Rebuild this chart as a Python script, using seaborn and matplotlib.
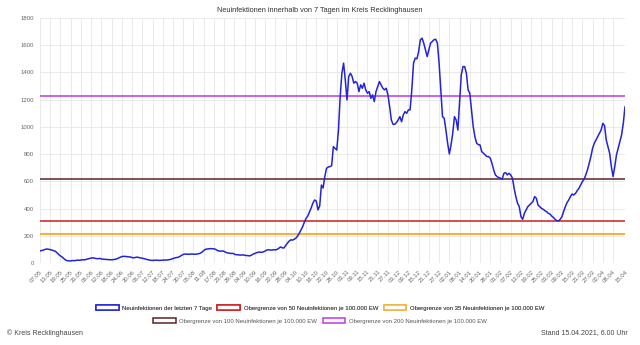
import matplotlib
matplotlib.use("Agg")
import matplotlib.pyplot as plt
import seaborn as sns
import pandas as pd
from matplotlib.patches import Patch

# ---------------- data ----------------
start_date = "2020-05-07"

# 7-day new infections, daily values (07.05.2020 - 15.04.2021)
cases_spring_summer = [
    88, 92, 95, 100, 103, 101, 98, 95, 90, 86, 75, 62, 52, 44, 32, 22, 17, 15, 16, 18,
    17, 19, 21, 20, 22, 24, 23, 26, 30, 33, 36, 38, 35, 33, 31, 34, 30, 28, 27, 26,
    25, 24, 24, 25, 27, 30, 36, 42, 47, 49, 48, 47, 45, 44, 40, 38, 41, 43, 40, 37,
    35, 32, 28, 25, 22, 20, 19, 20, 21, 20, 19, 20, 21, 22, 21, 23, 25, 28, 33, 37,
    40, 42, 48, 56, 63, 66, 65, 64, 65, 66, 65, 64, 66, 68, 72, 80, 92, 100, 103, 104,
    106, 105, 104, 100, 92, 88, 87, 89, 85, 78, 74, 72, 70, 71, 65, 61, 60, 59, 58, 60,
    57, 55, 54, 52, 58, 66, 70, 76, 79, 80, 78, 82, 88, 95, 97, 96, 95, 98, 96, 100,
    108, 118, 112, 110, 128, 145, 160, 170, 168, 174, 182, 198, 218, 242, 267, 300, 328, 345, 375, 405,
    440, 463, 455, 390,
]
cases_autumn_winter = [
    420, 573, 551, 635, 696, 705, 708, 715, 855, 843, 830, 977, 1222, 1394, 1468, 1345,
    1198, 1369, 1394, 1370, 1321, 1333, 1321, 1259, 1309, 1284, 1321, 1272, 1247, 1259,
    1210, 1235, 1186, 1259, 1296, 1333, 1309, 1284, 1272, 1284, 1235, 1149, 1051, 1019,
    1019, 1032, 1051, 1075, 1038, 1088, 1112, 1100, 1125, 1125, 1272, 1468, 1505, 1500,
    1553, 1639, 1652, 1615, 1566, 1517, 1566, 1615, 1627, 1640, 1644, 1615, 1468, 1272,
    1075, 1063, 977, 880, 801, 867, 953, 1075, 1051, 977, 1174, 1382, 1443, 1443, 1394,
    1272, 1247, 1125, 1002, 928, 880, 870, 867,
]
cases_2021 = [
    818, 806, 794, 782, 782, 770, 733, 684, 647, 635, 627, 623, 617, 659, 664, 647, 659,
    647, 623, 549, 488, 439, 414, 340, 321, 365, 390, 414, 426, 439, 451, 488, 476, 426,
    414, 402, 395, 385, 377, 365, 360, 345, 335, 321, 311, 309, 321, 340, 377, 414, 443,
    463, 488, 507, 500, 512, 532, 549, 573, 598, 615, 647, 684, 733, 782, 843, 880, 904,
    928, 953, 977, 1026, 1010, 904, 855, 806, 708, 635, 708, 794, 843, 892, 941, 1026, 1149,
]
cases = cases_spring_summer + cases_autumn_winter + cases_2021

series_label = "Neuinfektionen der letzten 7 Tage"
threshold_labels = [
    "Obergrenze von 50 Neuinfektionen je 100.000 EW",
    "Obergrenze von 35 Neuinfektionen je 100.000 EW",
    "Obergrenze von 100 Neuinfektionen je 100.000 EW",
    "Obergrenze von 200 Neuinfektionen je 100.000 EW",
]
threshold_values = [307, 215, 614, 1228]
threshold_colors = ["#d01c1c", "#f2b33d", "#5c2323", "#b83ae8"]
threshold_widths = [1.1, 1.5, 1.1, 1.1]
series_color = "#2323d8"

title = "Neuinfektionen innerhalb von 7 Tagen im Kreis Recklinghausen"
source_text = "© Kreis Recklinghausen"
stand_text = "Stand 15.04.2021, 6.00 Uhr"

# ---------------- plot ----------------
sns.set_style("white")
plt.rcParams["font.family"] = ["Liberation Sans", "DejaVu Sans"]

dates = pd.date_range(start_date, periods=len(cases), freq="D")
df = pd.DataFrame({"date": dates, "cases": cases})

fig = plt.figure(figsize=(6.4, 3.45), dpi=100)
ax = fig.add_axes([40 / 640, 1 - 263 / 345, 585 / 640, 245 / 345])

for val, col, lw in zip(threshold_values, threshold_colors, threshold_widths):
    tdf = pd.DataFrame({"date": [dates[0], dates[-1]], "v": [val, val]})
    sns.lineplot(data=tdf, x="date", y="v", color=col, lw=lw, ax=ax, zorder=2)

sns.lineplot(data=df, x="date", y="cases", color=series_color, lw=1.1, ax=ax, zorder=3)

ax.set_xlim(dates[0], dates[-1])
ax.set_ylim(0, 1800)
ax.set_yticks(range(0, 1801, 200))
ax.set_yticklabels([str(v) for v in range(0, 1801, 200)])
tick_idx = list(range(0, len(dates) - 6, 6)) + [len(dates) - 1]
ax.set_xticks([dates[i] for i in tick_idx])
ax.set_xticklabels([dates[i].strftime("%d.%m") for i in tick_idx],
                   rotation=45, ha="right", rotation_mode="anchor")
ax.tick_params(axis="both", labelsize=4.3, colors="#666666", length=3, width=0.5, pad=1.5)
ax.tick_params(axis="both", color="#e4e4e4")
ax.set_xlabel("")
ax.set_ylabel("")
ax.grid(True, color="#e6e6e6", lw=0.6)
for s in ax.spines.values():
    s.set_visible(False)
ax.axhline(0, color="#d0d0d0", lw=0.7, zorder=1)

fig.text(0.5, 1 - 11 / 345, title, ha="center", va="center", fontsize=5.3, color="#333333")

def handle(col):
    return Patch(facecolor="white", edgecolor=col, lw=1.1)

all_labels = [series_label] + threshold_labels
all_colors = [series_color] + threshold_colors
leg_kw = dict(frameon=False, fontsize=4.3, handlelength=3.8, handleheight=0.9,
              handletextpad=0.6, columnspacing=0.9, labelcolor="#555555", loc="center")
leg1 = fig.legend([handle(c) for c in all_colors[:3]], all_labels[:3], ncol=3,
                  bbox_to_anchor=(0.5, 1 - 308 / 345), **leg_kw)
fig.add_artist(leg1)
fig.legend([handle(c) for c in all_colors[3:]], all_labels[3:], ncol=2,
           bbox_to_anchor=(0.5, 1 - 321 / 345), **leg_kw)

fig.text(7 / 640, 1 - 333 / 345, source_text, ha="left", va="center", fontsize=5, color="#444444")
fig.text(628 / 640, 1 - 333 / 345, stand_text, ha="right", va="center", fontsize=5, color="#444444")

fig.savefig("out.png", dpi=100, facecolor="white")
